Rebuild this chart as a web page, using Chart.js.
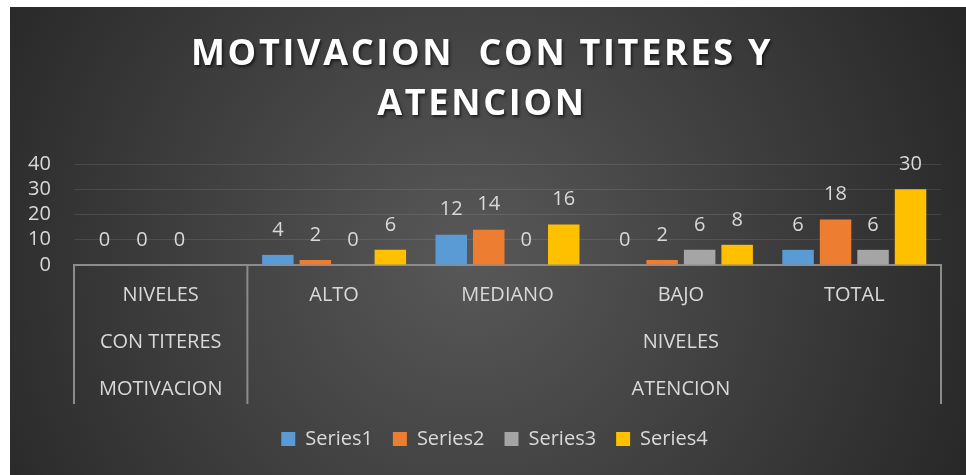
<!DOCTYPE html>
<html>
<head>
<meta charset="utf-8">
<script src="https://cdn.jsdelivr.net/npm/chart.js@4.4.1/dist/chart.umd.min.js"></script>
<style>
  html, body { margin: 0; padding: 0; background: #ffffff; }
  #caja { position: absolute; left: 10px; top: 7px; width: 956px; height: 468px; }
</style>
</head>
<body>
<div id="caja"><canvas id="grafico" width="956" height="468"></canvas></div>
<script>
// Datos del gráfico
const titulo = ["MOTIVACION  CON TITERES Y", "ATENCION"];
const categorias = ["NIVELES", "ALTO", "MEDIANO", "BAJO", "TOTAL"];
// niveles inferiores del eje (grupos de categorías)
const grupoNivel2 = ["CON TITERES", "NIVELES"];
const grupoNivel3 = ["MOTIVACION", "ATENCION"];
const grupoTamanos = [1, 4];

const series1 = [0, 4, 12, 0, 6];
const series2 = [0, 2, 14, 2, 18];
const series3 = [0, 0, 0, 6, 6];
const series4 = [null, 6, 16, 8, 30];
const nombresSeries = ["Series1", "Series2", "Series3", "Series4"];

const ticksY = [0, 10, 20, 30, 40];

const colorTexto = "#d9d9d9";
const colorLineas = "#8c8c8c";
const fuente = "'Open Sans', 'DejaVu Sans', sans-serif";

// Fondo con degradado radial (oscuro en los bordes)
const pluginFondo = {
  id: "fondo",
  beforeDraw(chart) {
    const ctx = chart.ctx;
    const g = ctx.createRadialGradient(460, 250, 0, 460, 250, 560);
    g.addColorStop(0, "#585858");
    g.addColorStop(1, "#262626");
    ctx.save();
    ctx.fillStyle = g;
    ctx.fillRect(0, 0, chart.width, chart.height);
    ctx.restore();
  }
};

// Título con espaciado entre letras y sombra (como en Excel)
const pluginTitulo = {
  id: "tituloExcel",
  afterDraw(chart) {
    const ctx = chart.ctx;
    ctx.save();
    ctx.font = "bold 36px " + fuente;
    if ("letterSpacing" in ctx) ctx.letterSpacing = "2.7px";
    ctx.fillStyle = "#ffffff";
    ctx.textAlign = "center";
    ctx.textBaseline = "alphabetic";
    ctx.shadowColor = "rgba(0,0,0,0.6)";
    ctx.shadowBlur = 3;
    ctx.shadowOffsetX = 1.5;
    ctx.shadowOffsetY = 1.5;
    titulo.forEach((linea, i) => {
      ctx.fillText(linea, 472, 58 + i * 50);
    });
    ctx.restore();
  }
};

// Etiquetas de valor encima de cada barra
const pluginEtiquetas = {
  id: "etiquetas",
  afterDatasetsDraw(chart) {
    const ctx = chart.ctx;
    ctx.save();
    ctx.font = "20px " + fuente;
    ctx.fillStyle = colorTexto;
    ctx.textAlign = "center";
    ctx.textBaseline = "middle";
    chart.data.datasets.forEach((ds, i) => {
      const meta = chart.getDatasetMeta(i);
      meta.data.forEach((bar, j) => {
        const v = ds.data[j];
        if (v === null || v === undefined) return;
        ctx.fillText(String(v), bar.x, bar.y - 25);
      });
    });
    ctx.restore();
  }
};

// Eje de categorías con varios niveles: grupos y líneas separadoras
const pluginGrupos = {
  id: "grupos",
  afterDraw(chart) {
    const ctx = chart.ctx;
    const x = chart.scales.x;
    const area = chart.chartArea;
    const filaAlto = 47;
    const fondoLineas = area.bottom + 139;
    ctx.save();
    ctx.strokeStyle = colorLineas;
    ctx.lineWidth = 2;
    ctx.font = "20px " + fuente;
    ctx.fillStyle = colorTexto;
    ctx.textAlign = "center";
    ctx.textBaseline = "middle";

    const paso = x.getPixelForValue(1) - x.getPixelForValue(0);
    let inicio = 0;
    const bordes = [area.left];
    grupoTamanos.forEach((n, g) => {
      const fin = inicio + n - 1;
      // Excel centra la etiqueta del grupo grande sobre sus últimas categorías
      const cx = n > 1
        ? (x.getPixelForValue(inicio + 1) + x.getPixelForValue(fin)) / 2
        : x.getPixelForValue(inicio);
      ctx.fillText(grupoNivel2[g], cx, area.bottom + 30 + filaAlto);
      ctx.fillText(grupoNivel3[g], cx, area.bottom + 30 + filaAlto * 2);
      bordes.push(x.getPixelForValue(fin) + paso / 2);
      inicio += n;
    });

    bordes.forEach(bx => {
      const px = Math.min(Math.max(bx, area.left), area.right);
      ctx.beginPath();
      ctx.moveTo(px, area.bottom);
      ctx.lineTo(px, fondoLineas);
      ctx.stroke();
    });
    ctx.restore();
  }
};

const colores = ["#5b9bd5", "#ed7d31", "#a5a5a5", "#ffc000"];
const valores = [series1, series2, series3, series4];

new Chart(document.getElementById("grafico"), {
  type: "bar",
  data: {
    labels: categorias,
    datasets: valores.map((d, i) => ({
      label: nombresSeries[i],
      data: d,
      backgroundColor: colores[i],
      borderWidth: 0,
      categoryPercentage: 0.865,
      barPercentage: 0.84
    }))
  },
  options: {
    responsive: false,
    animation: false,
    layout: { padding: { left: 38, right: 25, top: 157, bottom: 16 } },
    plugins: {
      title: { display: false },
      legend: {
        position: "bottom",
        labels: {
          color: colorTexto,
          font: { family: fuente, size: 20 },
          boxWidth: 14,
          boxHeight: 14,
          padding: 20
        }
      },
      tooltip: { enabled: false }
    },
    scales: {
      x: {
        grid: { display: false, drawTicks: false },
        border: { display: true, color: colorLineas, width: 2 },
        ticks: {
          color: colorTexto,
          font: { family: fuente, size: 20, lineHeight: 1.2 },
          padding: 18,
          maxRotation: 0,
          autoSkip: false
        },
        afterFit(scale) { scale.height = 144; }
      },
      y: {
        min: 0,
        max: 40,
        grid: { color: "rgba(255,255,255,0.10)", lineWidth: 1, drawTicks: false },
        border: { display: false },
        afterBuildTicks(scale) { scale.ticks = ticksY.map(v => ({ value: v })); },
        // etiquetas alineadas a la derecha, a la izquierda del área (sin recorte)
        ticks: {
          color: colorTexto,
          font: { family: fuente, size: 20 },
          autoSkip: false,
          mirror: true,
          crossAlign: "far",
          padding: -46
        },
        afterFit(scale) { scale.width = 26; }
      }
    }
  },
  plugins: [pluginFondo, pluginEtiquetas, pluginGrupos, pluginTitulo]
});
</script>
</body>
</html>
